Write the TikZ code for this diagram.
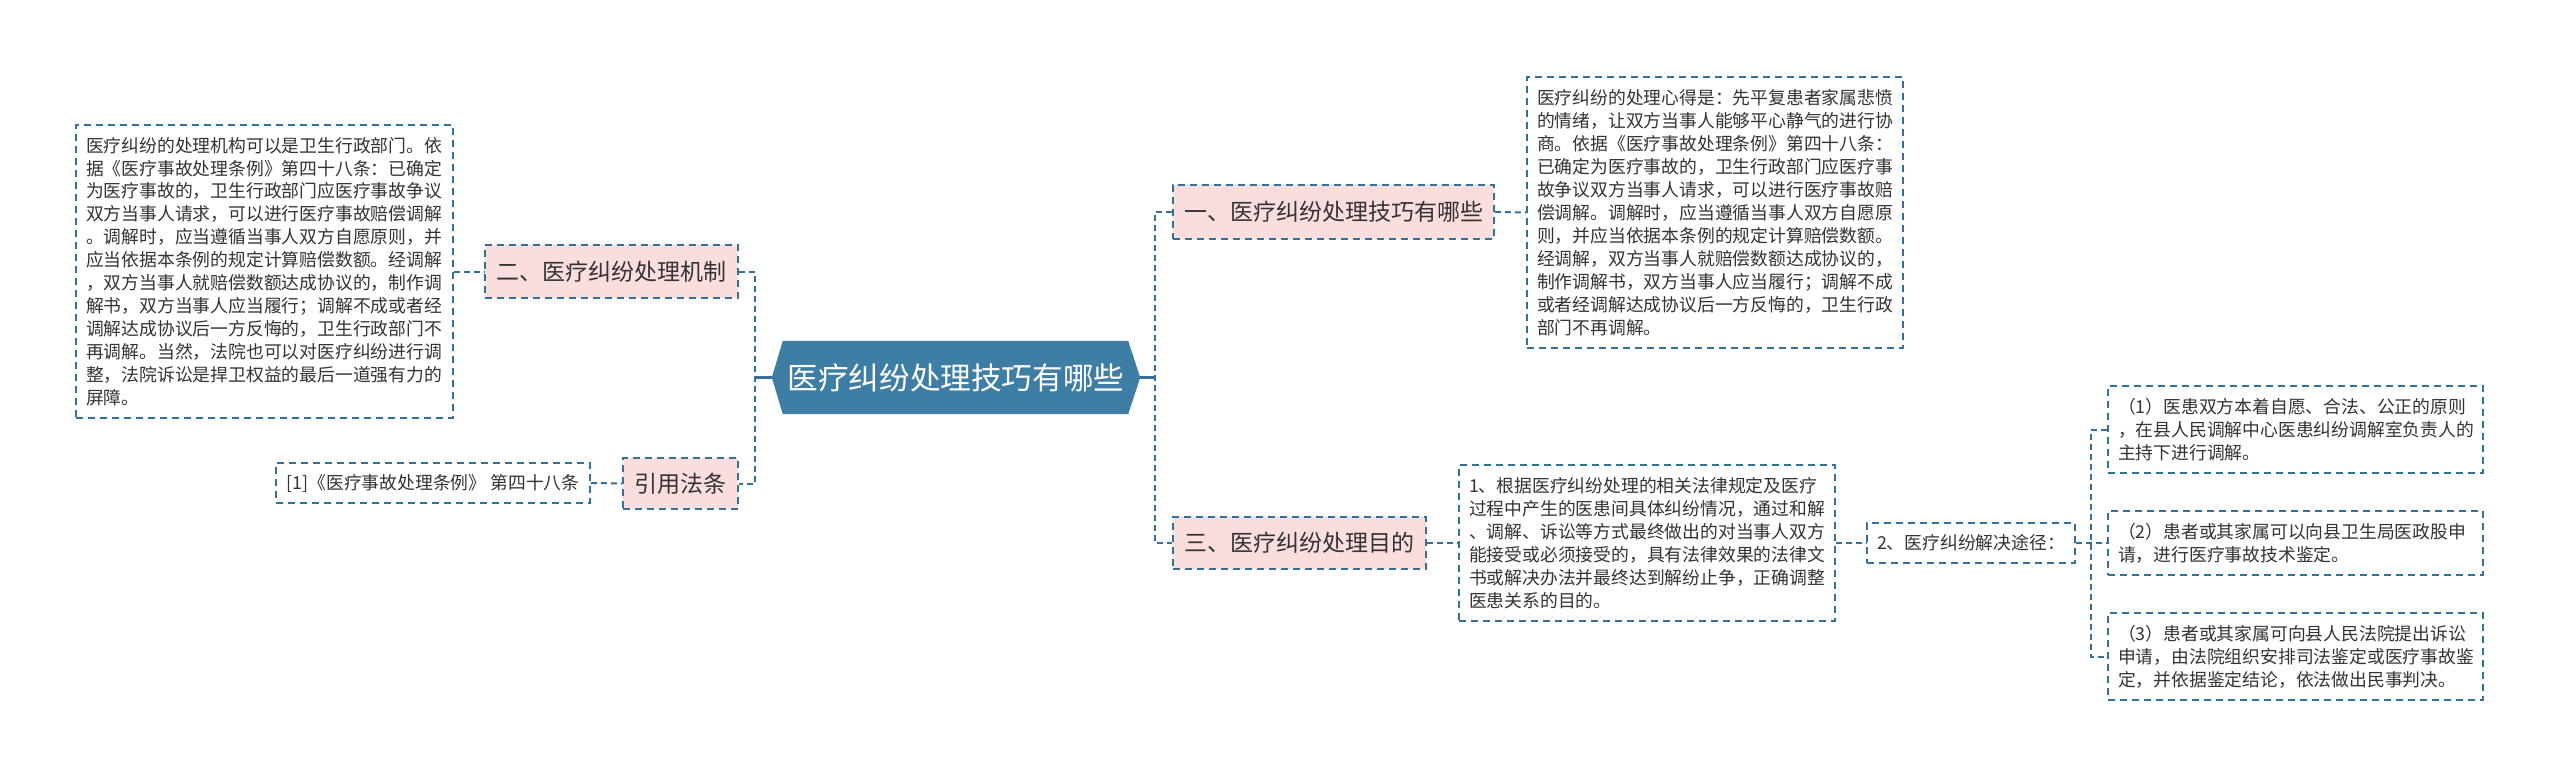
\documentclass[tikz,border=0pt]{standalone}
\usepackage{fontspec}
\setmainfont{Noto Sans CJK SC}
\usetikzlibrary{calc}
\pgfdeclarelayer{background}
\pgfsetlayers{background,main}
\definecolor{linec}{RGB}{52,112,152}
\definecolor{rootc}{RGB}{62,126,165}
\definecolor{pinkc}{RGB}{250,221,221}
\definecolor{textc}{RGB}{51,51,51}
\tikzset{
  conn/.style={draw=linec, line width=2pt, dash pattern=on 6pt off 4pt},
  stub/.style={draw=linec, line width=2.5pt},
  boxdash/.style={draw=linec, line width=1.8pt, dash pattern=on 7pt off 5pt},
  leafbox/.style={boxdash, fill=white, text=textc, align=left, inner xsep=10pt, inner ysep=0pt,
    font=\fontsize{17.8}{22.95}\selectfont},
  lonebox/.style={boxdash, fill=pinkc, text=textc, inner xsep=0pt, inner ysep=0pt,
    font=\fontsize{23}{28}\selectfont},
  rootbox/.style={text=white, inner sep=0pt, font=\fontsize{30.6}{36}\selectfont},
}
\begin{document}
\begin{tikzpicture}[x=1pt,y=-1pt]
\useasboundingbox (0,0) rectangle (2560,777);

% root
\node[rootbox, minimum width=368pt, minimum height=73pt] (root) at (956,377.5) {医疗纠纷处理技巧有哪些};
\begin{pgfonlayer}{background}
\fill[white] (0,0) rectangle (2560,777);
\fill[rootc] ([xshift=11pt]root.north west) -- ([xshift=-12pt]root.north east) -- (root.east)
  -- ([xshift=-12pt]root.south east) -- ([xshift=11pt]root.south west) -- (root.west) -- cycle;
\end{pgfonlayer}

% left branch
\node[lonebox, minimum width=253pt, minimum height=53pt] (n2) at (611.5,271.5) {二、医疗纠纷处理机制};
\node[lonebox, minimum width=115pt, minimum height=51pt] (cite) at (680.5,483.5) {引用法条};
\node[leafbox, text width=357pt, minimum height=293pt] (t2) at (264.5,271.5) {医疗纠纷的处理机构可以是卫生行政部门。依\\据《医疗事故处理条例》第四十八条：已确定\\为医疗事故的，卫生行政部门应医疗事故争议\\双方当事人请求，可以进行医疗事故赔偿调解\\。调解时，应当遵循当事人双方自愿原则，并\\应当依据本条例的规定计算赔偿数额。经调解\\，双方当事人就赔偿数额达成协议的，制作调\\解书，双方当事人应当履行；调解不成或者经\\调解达成协议后一方反悔的，卫生行政部门不\\再调解。当然，法院也可以对医疗纠纷进行调\\整，法院诉讼是捍卫权益的最后一道强有力的\\屏障。};
\node[leafbox, minimum width=314pt, minimum height=40pt, align=center, inner xsep=0pt] (ref) at (433,483) {[1]《医疗事故处理条例》 第四十八条};

% right branch
\node[lonebox, minimum width=321pt, minimum height=54pt] (n1) at (1333.5,212) {一、医疗纠纷处理技巧有哪些};
\node[lonebox, minimum width=253pt, minimum height=52pt] (n3) at (1299.5,543) {三、医疗纠纷处理目的};
\node[leafbox, text width=356pt, minimum height=271pt] (t1) at (1715,212.5) {医疗纠纷的处理心得是：先平复患者家属悲愤\\的情绪，让双方当事人能够平心静气的进行协\\商。依据《医疗事故处理条例》第四十八条：\\已确定为医疗事故的，卫生行政部门应医疗事\\故争议双方当事人请求，可以进行医疗事故赔\\偿调解。调解时，应当遵循当事人双方自愿原\\则，并应当依据本条例的规定计算赔偿数额。\\经调解，双方当事人就赔偿数额达成协议的，\\制作调解书，双方当事人应当履行；调解不成\\或者经调解达成协议后一方反悔的，卫生行政\\部门不再调解。};
\node[leafbox, text width=356pt, minimum height=156pt] (t3) at (1647,543) {1、根据医疗纠纷处理的相关法律规定及医疗\\过程中产生的医患间具体纠纷情况，通过和解\\、调解、诉讼等方式最终做出的对当事人双方\\能接受或必须接受的，具有法律效果的法律文\\书或解决办法并最终达到解纷止争，正确调整\\医患关系的目的。};
\node[leafbox, minimum width=208pt, minimum height=40pt, align=center, inner xsep=0pt] (n21) at (1971,543) {2、医疗纠纷解决途径：};
\node[leafbox, text width=355pt, minimum height=87pt] (l1) at (2295.5,429.5) {（1）医患双方本着自愿、合法、公正的原则\\，在县人民调解中心医患纠纷调解室负责人的\\主持下进行调解。};
\node[leafbox, text width=355pt, minimum height=64pt] (l2) at (2295.5,543) {（2）患者或其家属可以向县卫生局医政股申\\请，进行医疗事故技术鉴定。};
\node[leafbox, text width=355pt, minimum height=87pt] (l3) at (2295.5,656.5) {（3）患者或其家属可向县人民法院提出诉讼\\申请，由法院组织安排司法鉴定或医疗事故鉴\\定，并依据鉴定结论，依法做出民事判决。};

% connectors
\draw[stub] (root.west) -- ++(-18,0) coordinate (lj);
\draw[conn] (n2.east) -- ++(16,0) |- (cite.east);
\draw[stub] (root.east) -- ++(16,0) coordinate (rj);
\draw[conn] (n1.west) -- ++(-17,0) |- (n3.west);
\draw[conn] (t2.east) -- (n2.west);
\draw[conn] (ref.east) -- (cite.west);
\draw[conn] (n1.east) -- (t1.west);
\draw[conn] (n3.east) -- (t3.west);
\draw[conn] (t3.east) -- (n21.west);
\draw[conn] (n21.east) -- (l2.west);
\draw[conn] (l1.west) -- ++(-16,0) |- (l3.west);
\end{tikzpicture}
\end{document}
